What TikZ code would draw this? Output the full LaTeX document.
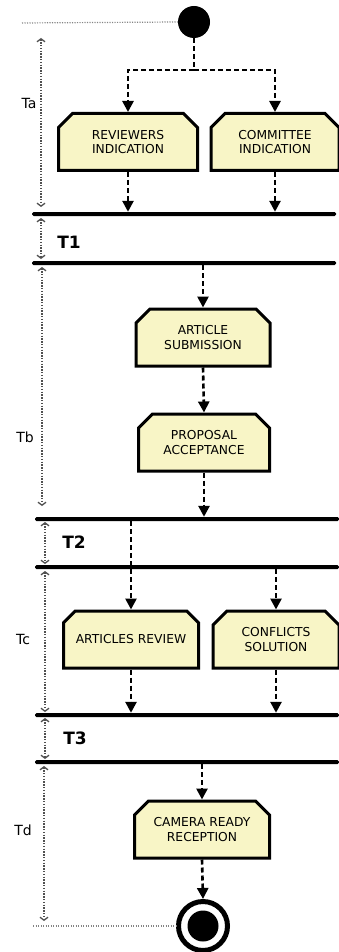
\documentclass[tikz,border=0pt]{standalone}
\usepackage{fontspec}
\setmainfont{DejaVu Sans}
\usetikzlibrary{arrows.meta,shapes.misc}

\definecolor{boxfill}{RGB}{248,245,198}
\definecolor{dimgray}{RGB}{80,80,80}

\begin{document}
\begin{tikzpicture}[x=1pt,y=-1pt,
  activity/.style={chamfered rectangle,
    chamfered rectangle corners={north west,north east},
    chamfered rectangle xsep=7pt, chamfered rectangle ysep=7pt,
    draw=black, line width=3pt, fill=boxfill,
    minimum height=57pt, inner sep=0pt, align=center,
    font=\fontsize{12.3}{14.5}\selectfont},
  syncbar/.style={rectangle, fill=black, minimum height=4pt, inner sep=0pt,
    rounded corners=1.5pt},
  flow/.style={draw=black, line width=2.6pt, dash pattern=on 5pt off 3pt,
    -{Triangle[length=11pt,width=11pt]}},
  flowline/.style={draw=black, line width=2.6pt, dash pattern=on 5pt off 3pt},
  dimline/.style={draw=dimgray, line width=1.3pt, dash pattern=on 1.3pt off 1.5pt,
    {Straight Barb[length=3pt,width=8pt]}-{Straight Barb[length=3pt,width=8pt]}},
  guide/.style={draw=dimgray!70, line width=1.2pt, dash pattern=on 1.2pt off 1.3pt},
  lbl/.style={font=\fontsize{14}{16}\selectfont, inner sep=0pt},
  tlbl/.style={font=\fontsize{17}{19}\selectfont\bfseries, inner sep=0pt},
]
\useasboundingbox (0,0) rectangle (339,952);

% initial and final states
\node[circle, fill=black, minimum size=32pt, inner sep=0pt] (start) at (194,22) {};
\node[circle, draw=black, line width=5pt, fill=white, minimum size=49pt, inner sep=0pt] (stop) at (203,926) {};
\node[circle, fill=black, minimum size=31pt, inner sep=0pt] (stopdot) at (stop.center) {};

% synchronisation bars
\node[syncbar, minimum width=304pt] (b1) at (184,214) {};
\node[syncbar, minimum width=304pt] (b2) at (184,263) {};
\node[syncbar, minimum width=304pt] (b3) at (187,519) {};
\node[syncbar, minimum width=304pt] (b4) at (187,567) {};
\node[syncbar, minimum width=304pt] (b5) at (187,715) {};
\node[syncbar, minimum width=304pt] (b6) at (187,762) {};

% activities
\node[activity, minimum width=139pt] (rev) at (128,142) {REVIEWERS\\INDICATION};
\node[activity, minimum width=128pt] (com) at (275,142) {COMMITTEE\\INDICATION};
\node[activity, minimum width=134pt] (art) at (203,337.5) {ARTICLE\\SUBMISSION};
\node[activity, minimum width=131pt] (prop) at (204,442.5) {PROPOSAL\\ACCEPTANCE};
\node[activity, minimum width=135pt] (arev) at (131,639.5) {ARTICLES REVIEW};
\node[activity, minimum width=126pt] (conf) at (276,639.5) {CONFLICTS\\SOLUTION};
\node[activity, minimum width=135pt] (cam) at (202,829.5) {CAMERA READY\\RECEPTION};

% control flow
\coordinate (fork) at (194,70);
\draw[flowline] (start.south) -- (fork);
\draw[flow] (fork) -| (rev.north);
\draw[flow] (fork) -| (com.north);
\draw[flow] (rev.south) -- (rev.south |- b1.north);
\draw[flow] (com.south) -- (com.south |- b1.north);
\draw[flow] (art.north |- b2.south) -- (art.north);
\draw[flow] (art.south) -- (prop.north);
\draw[flow] (prop.south) -- (prop.south |- b3.north);
\draw[flow] (arev.north |- b3.south) -- (arev.north);
\draw[flow] (conf.north |- b4.south) -- (conf.north);
\draw[flow] (arev.south) -- (arev.south |- b5.north);
\draw[flow] (conf.south) -- (conf.south |- b5.north);
\draw[flow] (cam.north |- b6.south) -- (cam.north);
\draw[flow] (cam.south) -- (stop.north);

% time reference lines
\draw[guide] (22,23) -- (start.west);
\draw[guide] (33,926) -- (stop.west);

% time intervals
\draw[dimline] (41,38) -- (41,207);
\draw[dimline] (41,218) -- (41,259);
\draw[dimline] (42,267) -- (42,506);
\draw[dimline] (45,522) -- (45,564);
\draw[dimline] (45,571) -- (45,712);
\draw[dimline] (45,718) -- (45,759);
\draw[dimline] (44,766) -- (44,921);

\node[lbl] (ta) at (29,103) {Ta};
\node[tlbl] (t1) at (69,242) {T1};
\node[lbl] (tb) at (25,437) {Tb};
\node[tlbl] (t2) at (74,542) {T2};
\node[lbl] (tc) at (23,639) {Tc};
\node[tlbl] (t3) at (75,738) {T3};
\node[lbl] (td) at (23,830) {Td};
\end{tikzpicture}
\end{document}
